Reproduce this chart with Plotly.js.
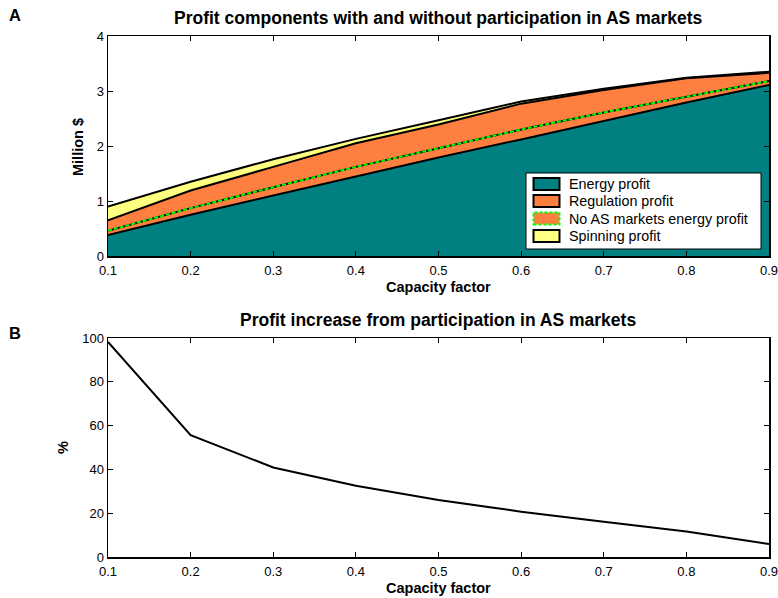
<!DOCTYPE html>
<html>
<head>
<meta charset="utf-8">
<script src="https://cdn.plot.ly/plotly-3.0.1.min.js"></script>
<style>
  html, body { margin: 0; padding: 0; background: #ffffff; }
  #chart { width: 778px; height: 598px; }
</style>
</head>
<body>
<div id="chart"></div>
<script>
// Capacity factor (shared x values for both panels)
const capacityFactor = [0.1, 0.2, 0.3, 0.4, 0.5, 0.6, 0.7, 0.8, 0.9];
const xTickText = ['0.1', '0.2', '0.3', '0.4', '0.5', '0.6', '0.7', '0.8', '0.9'];

// Panel A: profit components, million $ (stacked)
const energyProfit     = [0.38, 0.75, 1.10, 1.45, 1.79, 2.12, 2.46, 2.79, 3.11];
const regulationProfit = [0.27, 0.44, 0.52, 0.60, 0.60, 0.65, 0.56, 0.44, 0.22];
const spinningProfit   = [0.25, 0.16, 0.14, 0.08, 0.08, 0.04, 0.02, 0.01, 0.02];
// Energy profit when the unit stays out of the AS markets
const noASEnergyProfit = [0.46, 0.87, 1.25, 1.62, 1.96, 2.30, 2.61, 2.90, 3.18];

// Panel B: profit increase, %
const profitIncrease = [98.2, 55.6, 40.9, 32.5, 26.0, 20.7, 16.1, 11.6, 5.9];

const legendLabels = ['Energy profit', 'Regulation profit', 'No AS markets energy profit', 'Spinning profit'];

const W = 778, H = 598;
const FONT = 'Liberation Sans, Arial, Helvetica, sans-serif';
const TEAL = '#008080', ORANGE = '#FF7F40', YELLOW = '#FFFF80', GREEN = '#00FF00';

// pixel -> paper coordinates
const px = x => x / W;
const py = y => 1 - y / H;

const traces = [
  { x: capacityFactor, y: energyProfit, type: 'scatter', mode: 'lines',
    stackgroup: 'profit', fillcolor: TEAL, line: { color: '#000', width: 2 },
    xaxis: 'x', yaxis: 'y', showlegend: false, hoverinfo: 'skip' },
  { x: capacityFactor, y: regulationProfit, type: 'scatter', mode: 'lines',
    stackgroup: 'profit', fillcolor: ORANGE, line: { color: '#000', width: 2 },
    xaxis: 'x', yaxis: 'y', showlegend: false, hoverinfo: 'skip' },
  { x: capacityFactor, y: spinningProfit, type: 'scatter', mode: 'lines',
    stackgroup: 'profit', fillcolor: YELLOW, line: { color: '#000', width: 2 },
    xaxis: 'x', yaxis: 'y', showlegend: false, hoverinfo: 'skip' },
  // no-AS profit: black base with a green dashed stroke on top
  { x: capacityFactor, y: noASEnergyProfit, type: 'scatter', mode: 'lines',
    line: { color: '#000', width: 2 }, xaxis: 'x', yaxis: 'y', showlegend: false, hoverinfo: 'skip' },
  { x: capacityFactor, y: noASEnergyProfit, type: 'scatter', mode: 'lines',
    line: { color: GREEN, width: 2, dash: '4px,2px' }, xaxis: 'x', yaxis: 'y', showlegend: false, hoverinfo: 'skip' },
  { x: capacityFactor, y: profitIncrease, type: 'scatter', mode: 'lines',
    line: { color: '#000', width: 2 }, xaxis: 'x2', yaxis: 'y2', showlegend: false, hoverinfo: 'skip' }
];

const tickFont = { family: FONT, size: 13, color: '#000' };
const baseAxis = {
  showline: true, linecolor: '#000', linewidth: 1.5, mirror: 'allticks',
  ticks: 'inside', ticklen: 5, tickwidth: 1, tickcolor: '#000',
  showgrid: false, zeroline: false, tickfont: tickFont, fixedrange: true
};
const xAxisTicks = { tickmode: 'array', tickvals: capacityFactor, ticktext: xTickText,
  ticklabeloverflow: 'allow', ticklabelstandoff: 2 };

const xDomain = [px(108), px(769)];

// Hand-built legend box (patches + labels)
const legendRows = [184, 201, 218.5, 236];
const patchFill = [TEAL, ORANGE, ORANGE, YELLOW];
const shapes = [
  { type: 'rect', xref: 'paper', yref: 'paper', x0: px(526), x1: px(761), y0: py(249), y1: py(173),
    fillcolor: '#fff', line: { color: '#000', width: 1 } }
];
legendRows.forEach((cy, i) => {
  const dashed = i === 2;
  shapes.push({ type: 'rect', xref: 'paper', yref: 'paper',
    x0: px(533.5), x1: px(559.5), y0: py(cy + 6), y1: py(cy - 6),
    fillcolor: patchFill[i],
    line: dashed ? { color: GREEN, width: 2, dash: '3px,2px' } : { color: '#000', width: 2 } });
});

const annotations = [
  { text: '<b>A</b>', x: px(15), y: py(15), xref: 'paper', yref: 'paper', showarrow: false,
    xanchor: 'center', yanchor: 'middle', font: { family: FONT, size: 16.5, color: '#000' } },
  { text: '<b>B</b>', x: px(15), y: py(333), xref: 'paper', yref: 'paper', showarrow: false,
    xanchor: 'center', yanchor: 'middle', font: { family: FONT, size: 16.5, color: '#000' } },
  { text: '<b>Profit components with and without participation in AS markets</b>', x: px(438), y: py(18),
    xref: 'paper', yref: 'paper', showarrow: false, xanchor: 'center', yanchor: 'middle',
    font: { family: FONT, size: 17.5, color: '#000' } },
  { text: '<b>Profit increase from participation in AS markets</b>', x: px(438), y: py(320),
    xref: 'paper', yref: 'paper', showarrow: false, xanchor: 'center', yanchor: 'middle',
    font: { family: FONT, size: 17.5, color: '#000' } },
  { text: '<b>Capacity factor</b>', x: px(438), y: py(287), xref: 'paper', yref: 'paper', showarrow: false,
    xanchor: 'center', yanchor: 'middle', font: { family: FONT, size: 14.5, color: '#000' } },
  { text: '<b>Capacity factor</b>', x: px(438), y: py(588), xref: 'paper', yref: 'paper', showarrow: false,
    xanchor: 'center', yanchor: 'middle', font: { family: FONT, size: 14.5, color: '#000' } },
  { text: '<b>Million $</b>', x: px(78), y: py(147), xref: 'paper', yref: 'paper', showarrow: false,
    textangle: -90, xanchor: 'center', yanchor: 'middle', font: { family: FONT, size: 14.5, color: '#000' } },
  { text: '<b>%</b>', x: px(63), y: py(447), xref: 'paper', yref: 'paper', showarrow: false,
    textangle: -90, xanchor: 'center', yanchor: 'middle', font: { family: FONT, size: 14.5, color: '#000' } }
];
legendLabels.forEach((t, i) => {
  annotations.push({ text: t, x: px(567), y: py(legendRows[i]), xref: 'paper', yref: 'paper',
    showarrow: false, xanchor: 'left', yanchor: 'middle',
    font: { family: FONT, size: 14.3, color: '#000' } });
});

const layout = {
  width: W, height: H,
  margin: { l: 0, r: 0, t: 0, b: 0 },
  paper_bgcolor: '#fff', plot_bgcolor: '#fff',
  showlegend: false,
  font: { family: FONT, color: '#000' },
  xaxis: Object.assign({}, baseAxis, xAxisTicks, { domain: xDomain, range: [0.1, 0.9], anchor: 'y' }),
  yaxis: Object.assign({}, baseAxis, { domain: [py(256), py(36)], range: [0, 4], dtick: 1, anchor: 'x' }),
  xaxis2: Object.assign({}, baseAxis, xAxisTicks, { domain: xDomain, range: [0.1, 0.9], anchor: 'y2' }),
  yaxis2: Object.assign({}, baseAxis, { domain: [py(557), py(338)], range: [0, 100], dtick: 20, anchor: 'x2' }),
  shapes: shapes,
  annotations: annotations
};

Plotly.newPlot('chart', traces, layout, { displayModeBar: false, staticPlot: true });
</script>
</body>
</html>
